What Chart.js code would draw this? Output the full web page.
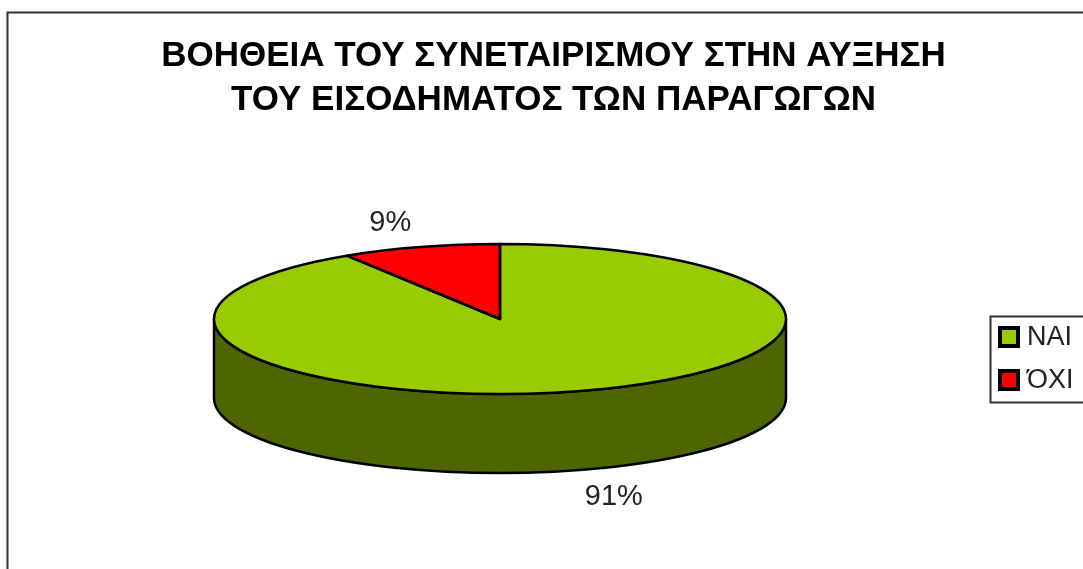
<!DOCTYPE html>
<html><head><meta charset="utf-8">
<style>html,body{margin:0;padding:0;background:#fff;overflow:hidden;width:1083px;height:569px}canvas{display:block}</style>
<script src="https://cdn.jsdelivr.net/npm/chart.js@4"></script>
</head><body><canvas id="c" width="1107" height="569"></canvas>
<script>
const titleLines = ['ΒΟΗΘΕΙΑ ΤΟΥ ΣΥΝΕΤΑΙΡΙΣΜΟΥ ΣΤΗΝ ΑΥΞΗΣΗ', 'ΤΟΥ ΕΙΣΟΔΗΜΑΤΟΣ ΤΩΝ ΠΑΡΑΓΩΓΩΝ'];
const categories = ['ΝΑΙ', 'ΌΧΙ'];
const values = [91, 9];
const topColors = ['#99cc00', '#ff0000'];
const wallColors = ['#4d6600', '#800000'];

const FONT = '"Liberation Sans", Arial, sans-serif';
const PIE = {cx: 500, cy: 319, rx: 286, ry: 75, depth: 79};
const LABEL_OFFSET = [{dx: 34, dy: 27}, {dx: -30, dy: -24}];

function toPie(ctx, el) {
  ctx.translate(PIE.cx, PIE.cy);
  ctx.scale(PIE.rx / el.outerRadius, PIE.ry / el.outerRadius);
  ctx.translate(-el.x, -el.y);
}

const pie3d = {
  id: 'pie3d',
  beforeDatasetsDraw(chart) {
    const ctx = chart.ctx, arcs = chart.getDatasetMeta(0).data;
    ctx.save();
    ctx.strokeStyle = '#333333'; ctx.lineWidth = 2;
    ctx.strokeRect(7.5, 12.5, 1200, 700);
    arcs.forEach((a, i) => {
      const s = Math.max(a.startAngle, 0), e = Math.min(a.endAngle, Math.PI);
      if (e <= s) return;
      ctx.beginPath();
      ctx.ellipse(PIE.cx, PIE.cy, PIE.rx, PIE.ry, 0, s, e);
      ctx.ellipse(PIE.cx, PIE.cy + PIE.depth, PIE.rx, PIE.ry, 0, e, s, true);
      ctx.closePath();
      ctx.fillStyle = wallColors[i]; ctx.fill();
      ctx.strokeStyle = '#000'; ctx.lineWidth = 2.5; ctx.lineJoin = 'round'; ctx.stroke();
    });
    ctx.restore();
    ctx.save();
    toPie(ctx, arcs[0]);
  },
  afterDatasetsDraw(chart) {
    const ctx = chart.ctx, arcs = chart.getDatasetMeta(0).data;
    ctx.restore();
    ctx.save();
    ctx.strokeStyle = '#000'; ctx.lineWidth = 2.5; ctx.lineJoin = 'round';
    arcs.forEach(a => {
      ctx.beginPath();
      ctx.moveTo(PIE.cx, PIE.cy);
      ctx.ellipse(PIE.cx, PIE.cy, PIE.rx, PIE.ry, 0, a.startAngle, a.endAngle);
      ctx.closePath();
      ctx.stroke();
    });
    const total = values.reduce((p, v) => p + v, 0);
    ctx.fillStyle = '#222'; ctx.font = '29px ' + FONT;
    ctx.textAlign = 'center'; ctx.textBaseline = 'middle';
    arcs.forEach((a, i) => {
      const m = (a.startAngle + a.endAngle) / 2;
      const lower = Math.sin(m) > 0 ? PIE.depth : 0;
      const x = PIE.cx + PIE.rx * Math.cos(m) + LABEL_OFFSET[i].dx;
      const y = PIE.cy + PIE.ry * Math.sin(m) + lower + LABEL_OFFSET[i].dy;
      ctx.fillText(Math.round(values[i] / total * 100) + '%', x, y);
    });
    ctx.lineJoin = 'miter';
    ctx.strokeStyle = '#333'; ctx.lineWidth = 2;
    ctx.fillStyle = '#fff';
    ctx.fillRect(991, 317, 140, 85);
    ctx.strokeRect(990.5, 316.5, 140, 86);
    ctx.font = '27px ' + FONT; ctx.textAlign = 'left';
    categories.forEach((c, i) => {
      const y = 337 + i * 43;
      ctx.fillStyle = topColors[i];
      ctx.fillRect(1000, y - 9, 18, 18);
      ctx.strokeStyle = '#000'; ctx.lineWidth = 4;
      ctx.strokeRect(1000, y - 9, 18, 18);
      ctx.fillStyle = '#222';
      ctx.fillText(c, 1027, y + 1);
    });
    ctx.restore();
  }
};

new Chart(document.getElementById('c'), {
  type: 'pie',
  data: {labels: categories, datasets: [{data: values, backgroundColor: topColors, borderWidth: 0, clip: false}]},
  options: {
    responsive: false, animation: false,
    plugins: {
      legend: {display: false},
      tooltip: {enabled: false},
      title: {display: true, text: titleLines, color: '#000',
        font: {family: FONT, size: 35, weight: 'bold', lineHeight: 1.257},
        padding: {top: 34, bottom: 0}}
    }
  },
  plugins: [pie3d]
});
</script></body></html>
